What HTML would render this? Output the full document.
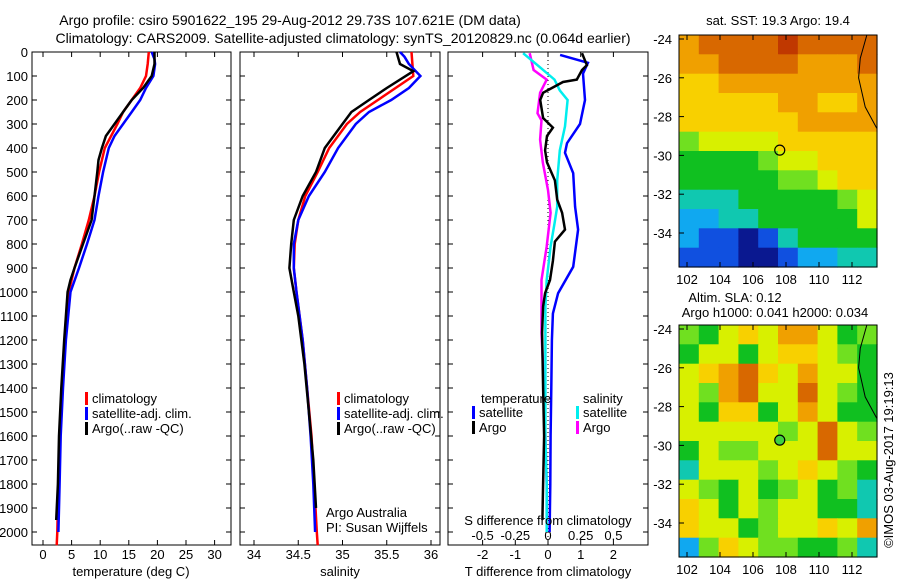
<!DOCTYPE html>
<html><head><meta charset="utf-8"><style>
html,body{margin:0;padding:0;background:#fff;}
svg{display:block;font-family:"Liberation Sans",sans-serif;}
</style></head><body>
<svg id="fig" width="900" height="580" viewBox="0 0 900 580">
<text x="290" y="25" font-size="14" text-anchor="middle">Argo profile: csiro 5901622_195 29-Aug-2012 29.73S 107.621E (DM data)</text>
<text x="343" y="43" font-size="14" text-anchor="middle">Climatology: CARS2009. Satellite-adjusted climatology: synTS_20120829.nc (0.064d earlier)</text>
</svg>
<script>
// ---------- data ----------
const depthTicks=[0,100,200,300,400,500,600,700,800,900,1000,1100,1200,1300,1400,1500,1600,1700,1800,1900,2000];
const tTicks=[0,5,10,15,20,25,30];
const sTicks=[34,34.5,35,35.5,36];
const tdTicks=[-2,-1,0,1,2];
const tdLabels=["-2","-1","0","1","2"];
const sdLabels=["-0.5","-0.25","0","0.25","0.5"];
const latTicks=[-24,-26,-28,-30,-32,-34];
const lonTicks=[102,104,106,108,110,112];

const tArgoDepth=[0,50,100,150,200,250,300,350,400,450,500,600,700,800,900,950,1000,1100,1200,1400,1600,1800,1950];
const tArgoVal=[19.5,19.5,19,17.5,15.5,14,12.5,11,10.3,9.7,9.5,9,8.5,7,5.5,4.8,4.3,4,3.7,3.2,2.8,2.6,2.3];
const tClimDepth=[0,50,100,150,200,250,300,400,500,600,700,800,900,1000,1200,1400,1600,1800,2000,2055];
const tClimVal=[18.5,18.3,18,17,15.5,14,13,10.8,9.8,9,8,6.8,5.5,4.5,3.8,3.3,3,2.7,2.5,2.4];
const tSatDepth=[0,30,50,100,150,200,250,300,350,400,500,600,700,800,900,1000,1200,1400,1600,1800,2000];
const tSatVal=[19,19.5,19.6,19.3,18,17,15.5,14,12.5,11.5,10.5,9.7,9,7.7,6.3,4.8,4,3.5,3.1,2.9,2.7];

const sArgoDepth=[0,50,80,150,200,250,300,400,500,600,700,800,900,1000,1100,1300,1500,1700,1900];
const sArgoVal=[35.61,35.65,35.8,35.5,35.3,35.1,35.0,34.8,34.7,34.55,34.45,34.42,34.4,34.45,34.5,34.57,34.62,34.67,34.7];
const sClimDepth=[0,100,150,200,250,300,400,500,600,700,800,900,1000,1200,1400,1600,1800,2000,2055];
const sClimVal=[35.78,35.8,35.6,35.4,35.2,35.05,34.85,34.72,34.58,34.5,34.46,34.45,34.48,34.55,34.6,34.65,34.68,34.71,34.72];
const sSatDepth=[0,20,50,100,150,200,250,300,400,500,600,700,800,900,1000,1200,1400,1600,1800,2000];
const sSatVal=[35.65,35.7,35.75,35.88,35.75,35.55,35.3,35.15,34.95,34.8,34.62,34.5,34.45,34.45,34.48,34.55,34.6,34.64,34.67,34.69];

const dtSatDepth=[12,45,90,200,300,380,420,505,645,740,895,1005,1090,1200,1400,1600,1800,2000];
const dtSatVal=[0.37,1.22,1.07,1.13,0.98,0.58,0.52,0.77,0.83,0.92,0.77,0.31,0.15,0.12,0.1,0.08,0.07,0.05];
const dtArgoDepth=[5,55,75,115,125,170,200,275,315,350,410,460,535,615,670,740,790,870,950,1005,1060,1170,1400,1600,1800,1950];
const dtArgoVal=[1.04,1.19,1.04,0.88,0.46,-0.15,-0.24,-0.15,0.15,-0.03,-0.09,-0.03,0.21,0.28,0.43,0.52,0.21,0.15,0.06,-0.09,-0.15,-0.18,-0.15,-0.12,-0.15,-0.17];
const dsSatDepth=[5,55,115,160,200,310,410,535,645,715,810,950,1060,1185,1400,1600,1800,2000];
const dsSatVal=[-0.19,-0.08,0.05,0.09,0.15,0.13,0.09,0.07,0.07,0.05,0.02,-0.01,-0.02,-0.02,-0.02,-0.02,-0.01,-0.01];
const dsArgoDepth=[5,75,115,170,255,285,365,460,575,670,810,950,1060,1170,1400,1600,1800,1950];
const dsArgoVal=[-0.14,-0.11,-0.01,-0.06,-0.08,-0.05,-0.06,-0.04,0,0.02,-0.01,-0.05,-0.05,-0.05,-0.03,-0.02,-0.01,-0.01];

const sstGrid=[
[8,9,9,9,9,10,9,9,9,9],
[8,8,9,9,9,9,8,8,8,9],
[7,7,8,8,8,8,8,8,8,8],
[7,7,7,7,7,8,8,7,7,8],
[7,7,7,7,7,7,8,8,8,8],
[5,6,6,6,6,7,7,7,7,7],
[4,4,4,4,5,6,6,7,7,7],
[4,4,4,4,4,5,5,6,7,7],
[3,3,3,4,4,4,4,4,5,6],
[2,2,3,3,4,4,4,4,4,6],
[2,1,1,0,1,3,4,4,4,4],
[1,1,1,0,0,1,2,2,3,3]];
const slaGrid=[
[5,4,6,7,6,8,8,6,4,5],
[4,6,6,4,6,7,7,6,5,4],
[6,7,8,9,7,6,8,6,6,4],
[6,5,8,9,6,6,9,6,5,4],
[6,4,7,7,4,6,8,6,4,4],
[6,6,6,6,6,5,6,9,6,5],
[4,6,5,5,6,6,6,9,6,6],
[3,6,6,6,5,6,7,6,5,4],
[6,5,4,6,4,5,6,4,5,3],
[7,6,4,6,5,6,6,4,4,3],
[7,6,6,4,5,6,6,7,6,8],
[2,5,7,6,5,5,4,4,5,3]];
const cmap=["#0a1890","#1050e0","#10a8f0","#10c8b0","#10c020","#70e020","#d8f000","#f8d000","#f0a000","#d86800","#c03800"];
const argoLon=107.621, argoLat=-29.73;

// ---------- drawing ----------
const svg=document.getElementById('fig');
const NS="http://www.w3.org/2000/svg";
function el(tag,attrs,parent){const e=document.createElementNS(NS,tag);for(const k in attrs)e.setAttribute(k,attrs[k]);(parent||svg).appendChild(e);return e;}
function txt(x,y,s,anchor,size,parent){const t=el('text',{x:x,y:y,'font-size':size||13,'text-anchor':anchor||'middle'},parent);t.textContent=s;return t;}

const TOP=52,BOT=545;
const yD=d=>TOP+d*0.24;
function panel(x0,x1,name){
  const g=el('g',{});
  
  
  el('rect',{x:x0,y:TOP,width:x1-x0,height:BOT-TOP,fill:'none',stroke:'#000','stroke-width':1},g);
  depthTicks.forEach(d=>{el('line',{x1:x0,x2:x0+5,y1:yD(d),y2:yD(d),stroke:'#000'},g);el('line',{x1:x1,x2:x1-5,y1:yD(d),y2:yD(d),stroke:'#000'},g);});
  return g;
}
function line(g,xs,ds,xf,color,name){
  const pts=xs.map((v,i)=>xf(v).toFixed(1)+','+yD(ds[i]).toFixed(1)).join(' ');
  const p=el('polyline',{points:pts,fill:'none',stroke:color,'stroke-width':2.5},g);
  
  
}
function xticks(g,ticks,labels,xf,y,name){
  ticks.forEach((v,i)=>{const x=xf(v);el('line',{x1:x,x2:x,y1:TOP,y2:TOP+5,stroke:'#000'},g);el('line',{x1:x,x2:x,y1:BOT,y2:BOT-5,stroke:'#000'},g);
    const t=txt(x,y,labels[i],'middle',13,g);});
}
function legend(g,x,y,items){
  items.forEach((it,i)=>{el('rect',{x:x,y:y+i*15-11,width:3,height:13,fill:it[0]},g);
    const t=txt(x+7,y+i*15,it[1],'start',13,g);});
}

// depth labels
depthTicks.forEach(d=>{const t=txt(28,yD(d)+5,String(d),'end',13);});

// Panel 1 temperature
const xT=v=>43+v*5.72;
const g1=panel(32,231,'temperature-panel');
xticks(g1,tTicks,tTicks.map(String),xT,559,'temperature-tick-label');
line(g1,tClimVal,tClimDepth,xT,'#f00','temp-climatology-line');
line(g1,tSatVal,tSatDepth,xT,'#00f','temp-satellite-line');
line(g1,tArgoVal,tArgoDepth,xT,'#000','temp-argo-line');
legend(g1,85,403,[['#f00','climatology'],['#00f','satellite-adj. clim.'],['#000','Argo(..raw -QC)']]);
txt(131,576,'temperature (deg C)','middle',13,g1);

// Panel 2 salinity
const xS=v=>254+(v-34)*88.5;
const g2=panel(240,440,'salinity-panel');
xticks(g2,sTicks,sTicks.map(String),xS,559,'salinity-tick-label');
line(g2,sClimVal,sClimDepth,xS,'#f00','sal-climatology-line');
line(g2,sSatVal,sSatDepth,xS,'#00f','sal-satellite-line');
line(g2,sArgoVal,sArgoDepth,xS,'#000','sal-argo-line');
legend(g2,337,403,[['#f00','climatology'],['#00f','satellite-adj. clim.'],['#000','Argo(..raw -QC)']]);
txt(326,517,'Argo Australia','start',13,g2);
txt(326,532,'PI: Susan Wijffels','start',13,g2);
txt(340,576,'salinity','middle',13,g2);

// Panel 3 differences
const xDT=v=>548+v*32.7;
const xDS=v=>548+v*131;
const g3=panel(448,648,'difference-panel');
xticks(g3,tdTicks,tdLabels,xDT,559,'t-diff-tick-label');
tdTicks.forEach((v,i)=>{const t=txt(xDT(v),540,sdLabels[i],'middle',13,g3);});
el('line',{x1:xDT(0),x2:xDT(0),y1:TOP,y2:BOT,stroke:'#000','stroke-dasharray':'1,3'},g3);
line(g3,dsArgoVal,dsArgoDepth,xDS,'#f0f','s-diff-argo-line');
line(g3,dsSatVal,dsSatDepth,xDS,'#0ee','s-diff-satellite-line');
line(g3,dtSatVal,dtSatDepth,xDT,'#00f','t-diff-satellite-line');
line(g3,dtArgoVal,dtArgoDepth,xDT,'#000','t-diff-argo-line');
txt(481,403,'temperature','start',13,g3);
txt(583,403,'salinity','start',13,g3);
legend(g3,472,417,[['#00f','satellite'],['#000','Argo']]);
legend(g3,576,417,[['#0ee','satellite'],['#f0f','Argo']]);
txt(548,525,'S difference from climatology','middle',13,g3);
txt(548,576,'T difference from climatology','middle',13,g3);

// Maps
function map(y0,y1,grid,name,filled){
  const X0=679,X1=877;
  const g=el('g',{});
  
  
  const lonX=v=>687+(v-102)*16.5;
  const latY=v=>(y0+4)+(-24-v)*19.4;
  const rows=grid.length,cols=grid[0].length;
  const cw=(X1-X0)/cols,ch=(y1-y0)/rows;
  grid.forEach((r,i)=>r.forEach((v,j)=>{
    const c=el('rect',{x:(X0+j*cw).toFixed(1),y:(y0+i*ch).toFixed(1),width:(cw+0.6).toFixed(1),height:(ch+0.6).toFixed(1),fill:cmap[v]},g);
    
    
  }));
  el('polyline',{points:`${lonX(112.9)},${y0} ${lonX(112.5)},${latY(-25)} ${lonX(112.4)},${latY(-26)} ${lonX(112.8)},${latY(-27.5)} ${lonX(113.5)},${latY(-28.6)}`,fill:'none',stroke:'#000','stroke-width':1},g);
  el('rect',{x:X0,y:y0,width:X1-X0,height:y1-y0,fill:'none',stroke:'#000'},g);
  latTicks.forEach(v=>{const y=latY(v);el('line',{x1:X0,x2:X0+5,y1:y,y2:y,stroke:'#000'},g);
    const t=txt(672,y+5,String(v),'end',13,g);});
  lonTicks.forEach(v=>{const x=lonX(v);el('line',{x1:x,x2:x,y1:y0,y2:y0+5,stroke:'#000'},g);el('line',{x1:x,x2:x,y1:y1,y2:y1-5,stroke:'#000'},g);
    const t=txt(x,y1+17,String(v),'middle',13,g);});
  const c=el('circle',{cx:lonX(argoLon),cy:latY(argoLat),r:5,fill:filled?'#40d040':'none',stroke:'#000','stroke-width':1.2},g);
  
  
}
map(35,267,sstGrid,'sst-map',false);
map(325,557,slaGrid,'sla-map',true);
txt(778,25,'sat. SST: 19.3 Argo: 19.4','middle',13);
txt(735,302,'Altim. SLA: 0.12','middle',13);
txt(775,317,'Argo h1000: 0.041 h2000: 0.034','middle',13);
const cr=txt(0,0,'©IMOS 03-Aug-2017 19:19:13','middle',13);
cr.setAttribute('transform','translate(893,460) rotate(-90)');


</script>
</body></html>
